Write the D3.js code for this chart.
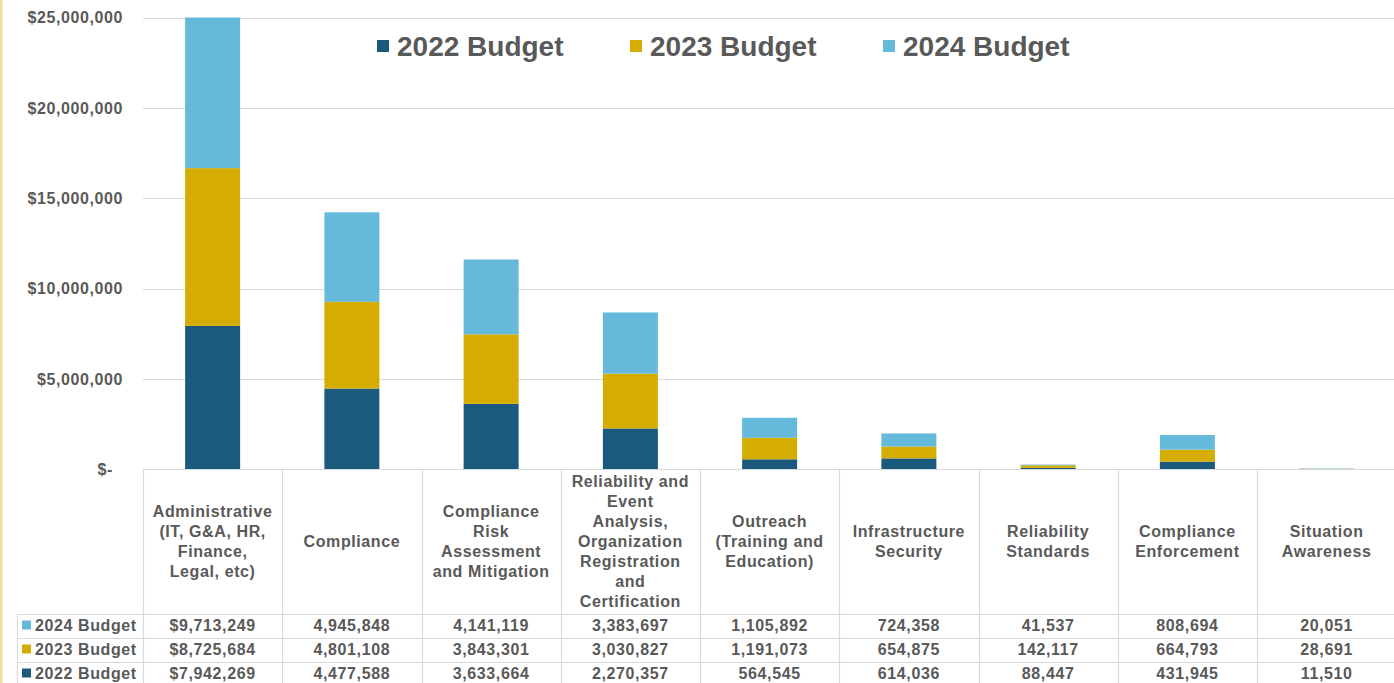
<!DOCTYPE html>
<html>
<head>
<meta charset="utf-8">
<script src="https://cdn.jsdelivr.net/npm/d3@7"></script>
<style>
  html, body { margin: 0; padding: 0; background: #ffffff; }
  svg { display: block; }
  text { font-family: "Liberation Sans", Arial, sans-serif; font-weight: bold; fill: #595959; }
</style>
</head>
<body>
<svg id="chart" width="1394" height="683"></svg>
<script>
// Budget by program area (USD); "\n" marks where each category label wraps
const categories = [
  "Administrative\n(IT, G&A, HR,\nFinance,\nLegal, etc)",
  "Compliance",
  "Compliance\nRisk\nAssessment\nand Mitigation",
  "Reliability and\nEvent\nAnalysis,\nOrganization\nRegistration\nand\nCertification",
  "Outreach\n(Training and\nEducation)",
  "Infrastructure\nSecurity",
  "Reliability\nStandards",
  "Compliance\nEnforcement",
  "Situation\nAwareness"
];
const budget2022 = [7942269, 4477588, 3633664, 2270357, 564545, 614036, 88447, 431945, 11510];
const budget2023 = [8725684, 4801108, 3843301, 3030827, 1191073, 654875, 142117, 664793, 28691];
const budget2024 = [9713249, 4945848, 4141119, 3383697, 1105892, 724358, 41537, 808694, 20051];
const seriesNames = ["2022 Budget", "2023 Budget", "2024 Budget"];
const seriesColors = ["#1c5a7d", "#d4ad00", "#65badb"];
const yTicks = [0, 5000000, 10000000, 15000000, 20000000, 25000000];

const seriesValues = [budget2022, budget2023, budget2024];
const rows = categories.map((c, i) => {
  const r = { category: c };
  seriesNames.forEach((s, k) => { r[s] = seriesValues[k][i]; });
  return r;
});

const svg = d3.select("#chart");
const plot = { left: 143, right: 1396.25, top: 17.5, bottom: 469.5 };

const x = d3.scaleBand().domain(categories).range([plot.left, plot.right]).padding(0);
const y = d3.scaleLinear().domain([0, 25000000]).range([plot.bottom, plot.top]);
const color = d3.scaleOrdinal().domain(seriesNames).range(seriesColors);
const grid = "#d9d9d9";
const spacing = "0.6px";

// thin tinted strip on the left edge
svg.append("rect").attr("x", 0).attr("y", 0).attr("width", 2.5).attr("height", 683).attr("fill", "#ecdd98");

// horizontal gridlines
svg.append("g").selectAll("line").data(yTicks.filter(d => d > 0)).join("line")
  .attr("x1", plot.left).attr("x2", 1394)
  .attr("y1", d => Math.round(y(d)) + 0.5).attr("y2", d => Math.round(y(d)) + 0.5)
  .attr("stroke", grid).attr("stroke-width", 1.2);

// y axis labels
const fmt = d3.format(",");
svg.append("g").selectAll("text").data(yTicks).join("text")
  .attr("x", d => d === 0 ? 113 : 123)
  .attr("y", d => y(d))
  .attr("dy", "0.35em")
  .attr("text-anchor", "end")
  .style("font-size", "16px")
  .style("letter-spacing", spacing)
  .text(d => d === 0 ? "$-" : "$" + fmt(d));

// stacked bars, clipped to the plotting area
svg.append("clipPath").attr("id", "plotClip")
  .append("rect").attr("x", plot.left).attr("y", plot.top)
  .attr("width", plot.right - plot.left).attr("height", plot.bottom - plot.top);

const stacked = d3.stack().keys(seriesNames)(rows);
const barW = x.bandwidth() * 0.395;
svg.append("g").attr("clip-path", "url(#plotClip)")
  .selectAll("g").data(stacked).join("g")
  .attr("fill", d => color(d.key))
  .selectAll("rect").data(d => d).join("rect")
  .attr("x", d => x(d.data.category) + (x.bandwidth() - barW) / 2)
  .attr("y", d => y(d[1]))
  .attr("width", barW)
  .attr("height", d => Math.max(0, y(d[0]) - y(d[1])));

// axis / table top line
svg.append("line").attr("x1", plot.left).attr("x2", 1394)
  .attr("y1", plot.bottom).attr("y2", plot.bottom)
  .attr("stroke", grid).attr("stroke-width", 1.2);

// data table below the axis
const rowTop = [614, 638, 662];
const rowH = 24;
const tableRows = [
  { name: "2024 Budget", values: budget2024 },
  { name: "2023 Budget", values: budget2023 },
  { name: "2022 Budget", values: budget2022 }
];
const table = svg.append("g");

// vertical cell borders
table.selectAll("line.v").data(categories).join("line").attr("class", "v")
  .attr("x1", d => Math.round(x(d)) + 0.5).attr("x2", d => Math.round(x(d)) + 0.5)
  .attr("y1", plot.bottom).attr("y2", 683)
  .attr("stroke", grid).attr("stroke-width", 1.2);
table.append("line").attr("x1", 17.5).attr("x2", 17.5).attr("y1", rowTop[0]).attr("y2", 683)
  .attr("stroke", grid).attr("stroke-width", 1.2);

// horizontal row borders
table.selectAll("line.h").data(rowTop).join("line").attr("class", "h")
  .attr("x1", 17.5).attr("x2", 1394)
  .attr("y1", d => d + 0.5).attr("y2", d => d + 0.5)
  .attr("stroke", grid).attr("stroke-width", 1.2);

// category headers
const headerMid = (plot.bottom + rowTop[0]) / 2;
const lineH = 20;
table.selectAll("text.cat").data(categories).join("text").attr("class", "cat")
  .attr("text-anchor", "middle")
  .style("font-size", "16px")
  .style("letter-spacing", spacing)
  .each(function (d) {
    const lines = d.split("\n");
    const cx = x(d) + x.bandwidth() / 2;
    const y0 = headerMid - (lines.length - 1) * lineH / 2;
    d3.select(this).selectAll("tspan").data(lines).join("tspan")
      .attr("x", cx)
      .attr("y", (l, i) => y0 + i * lineH)
      .attr("dy", "0.35em")
      .text(l => l);
  });

// row labels with series keys
tableRows.forEach((r, ri) => {
  const cy = rowTop[ri] + rowH / 2 - 1;
  table.append("rect").attr("x", 22).attr("y", cy - 4.5).attr("width", 9).attr("height", 9)
    .attr("fill", color(r.name));
  table.append("text").attr("x", 35).attr("y", cy).attr("dy", "0.35em")
    .style("font-size", "16px").style("letter-spacing", spacing)
    .text(r.name);
  table.append("g").selectAll("text").data(r.values).join("text")
    .attr("x", (v, i) => x(categories[i]) + x.bandwidth() / 2)
    .attr("y", cy).attr("dy", "0.35em")
    .attr("text-anchor", "middle")
    .style("font-size", "16px").style("letter-spacing", spacing)
    .text((v, i) => (i === 0 ? "$" : "") + fmt(v));
});

// legend
const legendX = [377, 630, 883];
const legend = svg.append("g");
seriesNames.forEach((s, i) => {
  legend.append("rect").attr("x", legendX[i]).attr("y", 40).attr("width", 12).attr("height", 12)
    .attr("fill", color(s));
  legend.append("text").attr("x", legendX[i] + 20).attr("y", 46).attr("dy", "0.35em")
    .style("font-size", "28px")
    .text(s);
});
</script>
</body>
</html>
